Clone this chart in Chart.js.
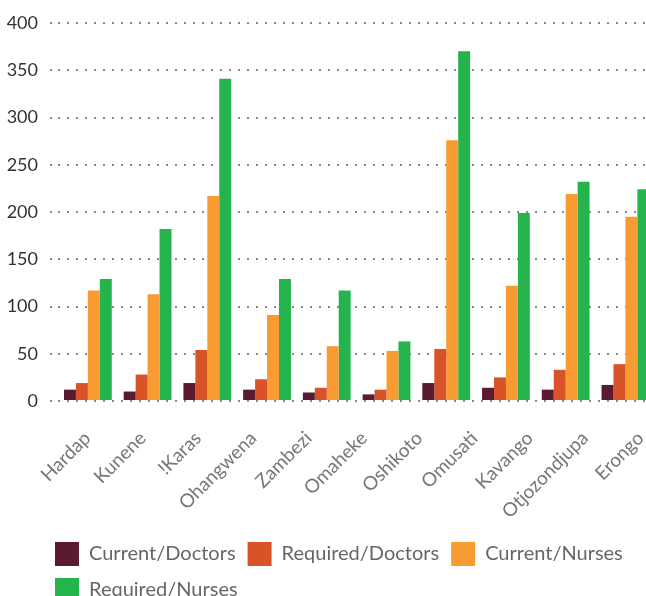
<!DOCTYPE html>
<html>
<head>
<meta charset="utf-8">
<script src="https://cdn.jsdelivr.net/npm/chart.js@4/dist/chart.umd.min.js"></script>
<style>
  html, body { margin: 0; padding: 0; background: #fff; width: 646px; height: 596px; overflow: hidden; }
  #wrap { width: 715px; height: 612px; }
</style>
</head>
<body>
<div id="wrap"><canvas id="c" width="715" height="612"></canvas></div>
<script>
// Categories (the 11th group, Erongo, lies outside the visible picture)
const regions = ["Hardap", "Kunene", "!Karas", "Ohangwena", "Zambezi", "Omaheke", "Oshikoto", "Omusati", "Kavango", "Otjozondjupa", "Erongo"];
// Series values
const currentDoctors  = [12, 10, 19, 12,  9,  7,  19,  14,  12,  17, null];
const requiredDoctors = [19, 28, 54, 23, 14, 12,  55,  25,  33,  39, null];
const currentNurses   = [117, 113, 217, 91, 58, 53, 276, 122, 219, 195, null];
const requiredNurses  = [129, 182, 341, 129, 117, 63, 370, 199, 232, 224, null];
// Tick values of the y axis
const yTicks = [0, 50, 100, 150, 200, 250, 300, 350, 400];

const FONT = "Lato";
const LABEL_MIN = -0.533, LABEL_MAX = 11.348;

const legendShift = {
  id: "legendShift",
  afterLayout(chart) {
    const L = chart.legend;
    if (L) { L.left += 38; L.right += 38; }
  }
};

new Chart(document.getElementById("c"), {
  type: "bar",
  data: {
    labels: regions,
    datasets: [
      { label: "Current/Doctors",  data: currentDoctors,  backgroundColor: "#5a1a31" },
      { label: "Required/Doctors", data: requiredDoctors, backgroundColor: "#d85428" },
      { label: "Current/Nurses",   data: currentNurses,   backgroundColor: "#f89b32" },
      { label: "Required/Nurses",  data: requiredNurses,  backgroundColor: "#24b34c" }
    ]
  },
  plugins: [legendShift],
  options: {
    responsive: false,
    animation: false,
    datasets: { bar: { categoryPercentage: 0.8, barPercentage: 1.0 } },
    layout: { padding: { top: 23, left: 5, right: 0, bottom: 0 } },
    scales: {
      x: { type: "category", display: false, offset: true, grid: { display: false } },
      xl: {
        type: "linear", position: "bottom", bounds: "data", offset: false,
        min: LABEL_MIN, max: LABEL_MAX,
        grid: { display: false, drawTicks: false, offset: false }, border: { display: false },
        afterBuildTicks: s => {
          s.ticks = regions.map((_, i) => ({ value: i }));
          s.min = LABEL_MIN; s.max = LABEL_MAX;
        },
        afterFit: s => { s.height = 129; },
        ticks: {
          autoSkip: false, minRotation: 45, maxRotation: 45, padding: 26,
          color: "#777", font: { family: FONT, size: 19 },
          callback: v => regions[v]
        }
      },
      y: {
        min: 0, max: 400,
        afterBuildTicks: s => { s.ticks = yTicks.map(v => ({ value: v })); },
        afterFit: s => { s.width = 53; },
        grid: { color: "#8a8a8a", lineWidth: 2, tickLength: 8, tickBorderDash: [2, 7] },
        border: { display: false, dash: [2, 7] },
        ticks: { padding: 12, color: "#333", font: { family: FONT, size: 18 } }
      }
    },
    plugins: {
      tooltip: { enabled: false },
      legend: {
        position: "bottom", align: "start",
        labels: { boxWidth: 24, boxHeight: 24, padding: 12, color: "#666", font: { family: FONT, size: 20 } }
      }
    }
  }
});
</script>
</body>
</html>
